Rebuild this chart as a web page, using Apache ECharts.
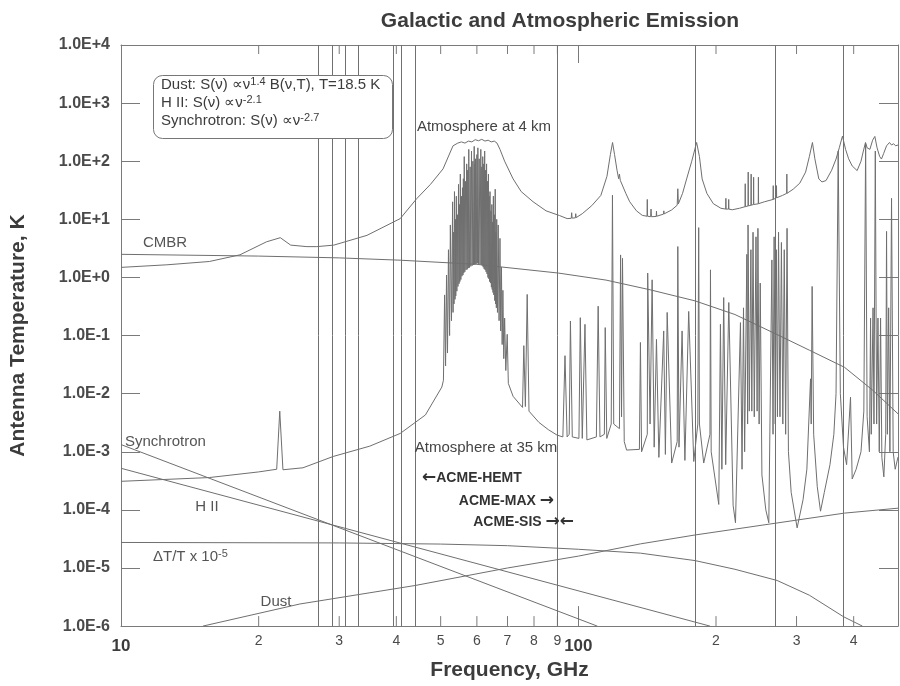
<!DOCTYPE html>
<html><head><meta charset="utf-8">
<script src="https://cdn.jsdelivr.net/npm/echarts@6/dist/echarts.min.js"></script>
<style>html,body{margin:0;padding:0;background:#fff}#c{width:900px;height:686px}</style>
</head><body><div id="c"></div>
<script>
// ---- data ----
const minorTickFreqs = [20,30,40,50,60,70,80,90,200,300,400];
const minorTickLabels = ['2','3','4','5','6','7','8','9','2','3','4'];
const bandLines = [27,29,31,33,39.4,41,44,90,180,270,380];

const cmbr = [[10,2.5],[20,2.33],[30,2.17],[40.8,1.98],[60,1.68],[90.4,1.19],[115,0.9],[143.9,0.61],[180,0.395],[220,0.23],[272,0.104],[320,0.056],[382,0.0284],[440,0.0115],[500,0.0045]];
const deltaTT = [[10,2.75e-5],[30,2.7e-5],[50,2.58e-5],[70,2.42e-5],[100,2.1e-5],[136.7,1.8e-5],[180,1.34e-5],[220,9.5e-6],[272,6.1e-6],[320,3.4e-6],[380,1.45e-6],[418,1e-6]];
const synchrotron = [[10,1.33e-3],[110,1e-6]];
const hII = [[10,5.2e-4],[194,1e-6]];
const dust = [[15.1,1e-6],[24.6,2.4e-6],[44,5e-6],[70,1e-5],[100,1.6e-5],[136.7,2.6e-5],[180,3.7e-5],[272,5.95e-5],[382,8.8e-5],[500,1.07e-4]];

const atm4km = [[10,1.49],[12.6,1.65],[15.6,1.88],[18.2,2.45],[20.8,4.1],[22.3,4.83],[23.5,3.6],[25.5,3.39],[26.8,3.39],[29.2,3.6],[34.5,5.3],[40.8,10.3],[44.3,22.6],[47.5,40],[50.6,73.7],[53.2,184],[54.5,205],[55.5,215],[56.5,205],[57.5,222],[58.5,215],[59.5,235],[60.5,225],[61.5,238],[62.5,222],[63.5,230],[64.5,215],[65.5,222],[66.4,205],[67.4,160],[69,100],[72,49.7],[75,30],[79.6,20.1],[85,14],[91,11.6],[94.5,10.3],[96.5,10.4],[96.7,13],[96.9,10.5],[98.5,10.6],[98.7,12.5],[98.9,10.7],[102,12.5],[107,17.2],[112,25.8],[115.5,55],[117.5,130],[118.8,210],[120,130],[121.5,70],[122.5,50],[123,60],[123.5,47],[124.5,44.2],[127,28],[129.5,20.1],[134,14],[138,11.7],[141.3,11.3],[141.5,22],[141.7,11.3],[143.9,11.1],[144.2,15],[144.5,11.1],[148,11.2],[148.2,13.8],[148.4,11.3],[153.6,12.3],[153.8,14],[154,12.4],[160,14.5],[164.5,17.5],[165,33.6],[165.5,18.5],[169,28],[172.5,49.6],[177,100],[181.4,210],[184,120],[186.5,49.6],[191,28],[197.3,18.6],[205,15.5],[210,15],[210.2,23],[210.4,15],[213,15],[213.2,22],[213.4,15],[217,14.6],[225,15.5],[231.5,16.5],[231.7,41],[231.9,16.5],[235,17],[235.2,65],[235.4,17],[238.5,17.5],[238.7,60],[238.9,17.5],[241.5,18],[241.7,53],[241.9,18],[247.4,18.5],[247.6,53],[247.8,18.6],[255,20],[266.6,22],[266.8,38],[267,22],[271,23.5],[271.2,38],[271.4,23.5],[279.5,25.8],[285.5,28],[285.7,60],[285.9,28],[295,33],[305,42],[314,65],[320,120],[325,210],[329,110],[335.6,49.6],[341,44],[348,46.5],[358,70],[366,109],[372,170],[378,270],[384,160],[390,110],[397,83],[407,69],[415,100],[420,150],[424.5,210],[428,170],[434,160],[440,230],[445,267],[450,170],[456,120],[460,109],[465,135],[472,184],[479,210],[484,190],[489,200],[494,184],[500,190]];

const atm35km = [[10,3.1e-4],[15.6,3.6e-4],[20,4.5e-4],[21.9,5.0e-4],[22.24,5.0e-3],[22.6,4.9e-4],[25,5.3e-4],[29.1,8.3e-4],[35,1.25e-3],[40.8,2.07e-3],[46.3,4.3e-3],[50.3,0.013],
[50.7,0.017],[51.0,0.5],[51.25,0.03],[51.5,1.1],[51.75,0.05],[52.0,3],[52.3,0.1],[52.5,8],[52.8,0.18],
[53.1,20],[53.22,0.25],[53.35,6],[53.47,0.35],[53.6,30],[53.75,0.42],[53.85,10],[53.95,0.48],[54.1,25],[54.25,0.58],[54.4,12],[54.55,0.7],[54.7,40],[54.85,0.78],[54.95,18],[55.08,0.85],[55.2,60],[55.35,0.92],[55.5,25],[55.65,1.05],[55.8,35],[55.93,1.1],[56.05,50],[56.18,1.2],[56.3,120],[56.47,1.25],[56.65,45],[56.82,1.35],[57.0,90],[57.15,1.38],[57.3,70],[57.45,1.45],[57.6,160],[57.8,1.48],[58.0,80],[58.2,1.55],[58.4,150],[58.6,1.6],[58.8,100],[59.0,1.65],[59.2,180],[59.3,1.68],[59.4,90],[59.5,1.7],[59.6,110],[59.8,1.72],[60.0,130],[60.15,1.75],[60.3,170],[60.5,1.72],[60.7,110],[60.95,1.7],[61.2,160],[61.35,1.65],[61.5,80],[61.65,1.6],[61.8,120],[61.95,1.5],[62.1,90],[62.25,1.4],[62.4,150],[62.55,1.35],[62.7,70],[62.85,1.25],[63.0,90],[63.15,1.15],[63.3,45],[63.45,1.0],[63.6,60],[63.72,0.95],[63.85,25],[63.97,0.85],[64.1,30],[64.25,0.8],[64.4,14],[64.55,0.68],[64.7,18],[64.82,0.62],[64.95,9],[65.08,0.55],[65.2,25],[65.35,0.5],[65.5,12],[65.65,0.4],[65.8,33],[65.92,0.35],[66.05,6],[66.18,0.3],[66.3,10],
[66.55,0.25],[66.8,8],[67.1,0.18],[67.4,4.7],[67.65,0.12],[67.9,1.5],[68.15,0.07],[68.4,0.6],[68.7,0.04],[69.0,0.2],[69.4,0.025],[69.9,0.105],[70.3,0.015],
[72,9e-3],[75.5,5.8e-3],[76.0,0.067],[76.6,6e-3],[77.3,0.51],[78,5e-3],[82,3.2e-3],[86,2.4e-3],[89.8,1.94e-3],[92.5,1.8e-3],[93.5,0.045],[94.5,1.8e-3],[95.5,2e-3],[96.1,0.178],[97,1.8e-3],[100.3,1.7e-3],[101,0.203],[102,1.7e-3],[103.4,0.156],[104.4,1.6e-3],[109.5,1.8e-3],[110.5,0.32],[111.5,1.8e-3],[114,2e-3],[114.5,0.137],[115.4,1.7e-3],[118,3e-3],[118.75,26],[119.5,3e-3],[123,2.5e-3],[123.7,2.44],[124.3,4e-3],[124.9,2.14],[126,1.5e-3],[127.5,1.07e-3],[136,1.1e-3],[136.7,0.076],[137.5,1e-3],[138.7,9.4e-4],[141.5,2e-3],[141.8,1.19],[143.5,3e-3],[145,0.91],[146.5,1.2e-3],[148.2,0.086],[150,8e-4],[153.7,0.12],[155,9e-4],[156.4,0.25],[160,6.4e-4],[164.5,1.5e-3],[165,3.4],[166,1.2e-3],[168.6,0.12],[171,7.1e-4],[174.3,0.26],[178.8,6.8e-4],[182.5,3e-3],[183.3,7.2],[184,3e-3],[188,6.4e-4],[194,2e-3],[194.5,1.35],[195.2,1e-3],[202.8,1.24e-4],[204.5,0.156],[206,5e-4],[207.9,0.45],[210,6e-4],[213.3,0.37],[218,1.2e-4],[220.6,6e-5],[226.2,0.167],[228,5e-4],[229.7,0.30],[231,1e-3],[233.6,2.5],[234.5,3e-3],[235,8],[236.5,5e-3],[238.4,3],[239.5,5e-3],[241,6],[242.5,4e-3],[244.6,5],[246,5e-3],[247,7],[248.5,3e-3],[249.9,0.8],[252,4e-4],[257,1e-4],[260.9,6e-5],[265,2],[266.5,2e-3],[268,5],[269.5,3e-3],[271,3],[272.5,4e-3],[274,6],[276,4e-3],[278,4],[280,3e-3],[282,3],[284,2e-3],[286,7],[288,1e-3],[292,2e-4],[300.9,4.9e-5],[310,1.5e-4],[316,5e-4],[321.9,0.018],[323,3e-3],[324.5,0.70],[327,2e-3],[333,2.5e-4],[338.5,9.5e-5],[345,2e-4],[355,6e-4],[362,2e-3],[366,0.01],[370,150],[374,0.01],[380,1.2e-3],[386,6e-4],[393.7,8.7e-3],[397,3.4e-4],[405,5e-4],[415,1e-3],[421,5e-3],[424.8,200],[428,4e-3],[433,1e-3],[435.5,0.2],[437,2e-3],[441,0.3],[443,3e-3],[446,150],[449,3e-3],[452,0.2],[455,1e-3],[458,0.2],[461,8e-4],[465.6,3.7e-4],[470,2e-3],[472,6.2],[474,2e-3],[477,0.3],[480,1e-3],[484,23],[488,1e-3],[493,5e-4],[500,8.1e-4]];

// ---- chart ----
const FONT = 'Liberation Sans, Arial, Helvetica, sans-serif';
const LINE = '#6f6f6f';
const AX = '#7a7a7a';
const TXT = '#3c3c3c';

function expLabel(v){
  const e = Math.round(Math.log10(v));
  return '1.0E' + (e >= 0 ? '+' : '-') + Math.abs(e);
}
function lineSeries(name, data, extra){
  return Object.assign({
    name, type:'line', data, showSymbol:false, symbol:'none', silent:true,
    lineStyle:{color:LINE, width:1}, xAxisIndex:0, yAxisIndex:0, z:3, animation:false
  }, extra||{});
}
const arrowRich = {
  a:{fontFamily:'DejaVu Sans', fontSize:17, fontWeight:'bold', fill:'#333', lineHeight:20},
  b:{fontFamily:FONT, fontSize:14, fontWeight:'bold', fill:'#333', lineHeight:20}
};

const chart = echarts.init(document.getElementById('c'), null, {renderer:'canvas'});
const option = {
  animation:false,
  backgroundColor:'#ffffff',
  title:{text:'Galactic and Atmospheric Emission', left:555, top:6, textAlign:'center',
    textStyle:{fontFamily:FONT, fontSize:21, fontWeight:'bold', color:TXT}},
  grid:{left:121, right:2, top:45, bottom:55, containLabel:false},
  xAxis:[
    {type:'log', logBase:10, min:10, max:500, position:'bottom',
     name:'Frequency, GHz', nameLocation:'middle', nameGap:31,
     nameTextStyle:{fontFamily:FONT, fontSize:21, fontWeight:'bold', color:TXT},
     axisLine:{show:true, lineStyle:{color:AX, width:1}},
     axisTick:{show:true, inside:true, length:20, lineStyle:{color:AX}},
     axisLabel:{show:true, margin:12, fontFamily:FONT, fontSize:17, fontWeight:'bold', color:TXT,
       showMaxLabel:false, formatter:v=>String(Math.round(v))},
     splitLine:{show:false}, minorTick:{show:false}},
    {type:'log', logBase:10, min:10, max:500, position:'top',
     axisLine:{show:true, lineStyle:{color:AX, width:1}},
     axisTick:{show:true, inside:true, length:18, lineStyle:{color:AX}},
     axisLabel:{show:false}, splitLine:{show:false}}
  ],
  yAxis:[
    {type:'log', logBase:10, min:1e-6, max:1e4, interval:1, position:'left',
     name:'Antenna Temperature, K', nameLocation:'middle', nameGap:92, nameRotate:90,
     nameTextStyle:{fontFamily:FONT, fontSize:21, fontWeight:'bold', color:TXT},
     axisLine:{show:true, lineStyle:{color:AX, width:1}},
     axisTick:{show:true, inside:true, length:19, lineStyle:{color:AX}},
     axisLabel:{show:true, margin:11, fontFamily:FONT, fontSize:16, fontWeight:'bold', color:'#4a4a4a', formatter:expLabel},
     splitLine:{show:false}},
    {type:'log', logBase:10, min:1e-6, max:1e4, interval:1, position:'right',
     axisLine:{show:true, lineStyle:{color:AX, width:1}},
     axisTick:{show:true, inside:true, length:19, lineStyle:{color:AX}},
     axisLabel:{show:false}, splitLine:{show:false}}
  ],
  series:[
    lineSeries('Bands', [], {markLine:{silent:true, symbol:['none','none'], label:{show:false},
      lineStyle:{color:'#707070', width:1, type:'solid'}, animation:false,
      data: bandLines.map(v=>({xAxis:v}))}}),
    lineSeries('CMBR', cmbr),
    lineSeries('dT/T', deltaTT),
    lineSeries('Synchrotron', synchrotron),
    lineSeries('H II', hII),
    lineSeries('Dust', dust),
    lineSeries('Atmosphere at 4 km', atm4km),
    lineSeries('Atmosphere at 35 km', atm35km),
    {type:'custom', name:'minorTicks', xAxisIndex:0, yAxisIndex:0, silent:true, clip:false, z:4,
     data: minorTickFreqs.map(f=>[f, 1e-6]),
     encode:{x:0, y:1},
     renderItem:function(params, api){
       const f = api.value(0);
       const b = api.coord([f, 1e-6]);
       const t = api.coord([f, 1e4]);
       const lbl = minorTickLabels[params.dataIndex];
       return {type:'group', children:[
         {type:'line', shape:{x1:b[0], y1:b[1], x2:b[0], y2:b[1]-10}, style:{stroke:AX, lineWidth:1}},
         {type:'line', shape:{x1:t[0], y1:t[1], x2:t[0], y2:t[1]+9}, style:{stroke:AX, lineWidth:1}},
         {type:'text', x:b[0], y:b[1]+8, style:{text:lbl, fill:'#4a4a4a', fontFamily:FONT, fontSize:14, align:'center', verticalAlign:'top'}}
       ]};
     }}
  ],
  graphic:[
    {type:'rect', left:153, top:75, shape:{width:239, height:63, r:9}, style:{fill:'#fff', stroke:'#777', lineWidth:1}, z:10},
    {type:'text', left:161, top:76, z:11, style:{
      text:'{n|Dust: S(ν) ∝ν}{s|1.4}{n| B(ν,T), T=18.5 K}\n{n|H II: S(ν) ∝ν}{s|-2.1}\n{n|Synchrotron: S(ν) ∝ν}{s|-2.7}',
      rich:{n:{fontFamily:FONT, fontSize:15, lineHeight:18, fill:TXT}, s:{fontFamily:FONT, fontSize:11, lineHeight:18, verticalAlign:'top', fill:TXT}}}},
    {type:'text', x:165, y:243, z:11, style:{text:'CMBR', fontFamily:FONT, fontSize:15, fill:'#555', align:'center', verticalAlign:'middle'}},
    {type:'text', x:125, y:442, z:11, style:{text:'Synchrotron', fontFamily:FONT, fontSize:15, fill:'#555', align:'left', verticalAlign:'middle'}},
    {type:'text', x:207, y:507, z:11, style:{text:'H II', fontFamily:FONT, fontSize:15, fill:'#555', align:'center', verticalAlign:'middle'}},
    {type:'text', x:153, y:548, z:11, style:{text:'{n|ΔT/T x 10}{s|-5}', align:'left', verticalAlign:'top',
      rich:{n:{fontFamily:FONT, fontSize:15, lineHeight:18, fill:'#555'}, s:{fontFamily:FONT, fontSize:11, lineHeight:18, verticalAlign:'top', fill:'#555'}}}},
    {type:'text', x:276, y:602, z:11, style:{text:'Dust', fontFamily:FONT, fontSize:15, fill:'#555', align:'center', verticalAlign:'middle'}},
    {type:'text', x:484, y:127, z:11, style:{text:'Atmosphere at 4 km', fontFamily:FONT, fontSize:15, fill:'#444', align:'center', verticalAlign:'middle'}},
    {type:'text', x:486, y:448, z:11, style:{text:'Atmosphere at 35 km', fontFamily:FONT, fontSize:15, fill:'#444', align:'center', verticalAlign:'middle'}},
    {type:'text', x:422, y:478, z:11, style:{text:'{a|←}{b|ACME-HEMT}', align:'left', verticalAlign:'middle', rich:arrowRich}},
    {type:'text', x:554, y:501, z:11, style:{text:'{b|ACME-MAX }{a|→}', align:'right', verticalAlign:'middle', rich:arrowRich}},
    {type:'text', x:574, y:522, z:11, style:{text:'{b|ACME-SIS }{a|→←}', align:'right', verticalAlign:'middle', rich:arrowRich}}
  ]
};
chart.setOption(option);
</script>
</body></html>
